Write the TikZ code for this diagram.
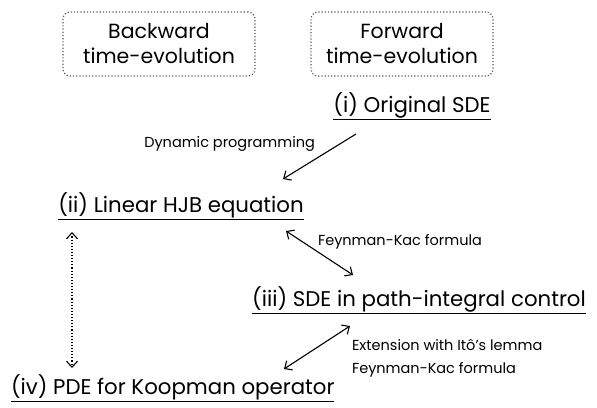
\documentclass[tikz,border=0pt]{standalone}
\usepackage{fontspec}
\setmainfont{Poppins}
\usetikzlibrary{arrows.meta}
\begin{document}
\begin{tikzpicture}[x=1pt,y=-1pt,
  every node/.style={inner sep=0pt,outer sep=0pt},
  tbox/.style={draw=black!65,dotted,line width=1.2pt,rounded corners=7pt,minimum width=192pt,minimum height=64pt,align=center,font=\fontsize{20.5}{25}\selectfont},
  main/.style={font=\fontsize{21.3}{24}\selectfont},
  lbl/.style={font=\fontsize{14.5}{23}\selectfont,align=left},
  arr/.style={line width=1.1pt,-{Straight Barb[length=6pt,width=11pt]}},
  darr/.style={line width=1.1pt,{Straight Barb[length=6pt,width=11pt]}-{Straight Barb[length=6pt,width=11pt]}}
]
\useasboundingbox (0,0) rectangle (597,407);
\node[tbox] (bw) at (159,44) {Backward\\time-evolution};
\node[tbox,minimum width=182pt] (fw) at (402,44) {Forward\\time-evolution};
\node[main,anchor=base] (i) at (412,112) {\underline{(i) Original SDE}};
\node[main,anchor=base] (ii) at (181,212) {\underline{(ii) Linear HJB equation}};
\node[main,anchor=base] (iii) at (419,306) {\underline{(iii) SDE in path-integral control}};
\node[main,anchor=base west] (iv) at (11,394) {\underline{(iv) PDE for Koopman operator}};
\node[lbl,anchor=base east] (l1) at (315,147) {Dynamic programming};
\node[lbl,anchor=base west] (l2) at (318,245) {Feynman-Kac formula};
\node[lbl,anchor=base west] (l3) at (352,373) {Extension with Itô’s lemma\\Feynman-Kac formula};
\coordinate (a1s) at (356,134);
\coordinate (a1e) at (283,179);
\draw[arr] (a1s) -- (a1e);
\coordinate (a2s) at (286,231);
\coordinate (a2e) at (353,275);
\draw[darr] (a2s) -- (a2e);
\coordinate (a3s) at (350,326);
\coordinate (a3e) at (284,369);
\draw[darr] (a3s) -- (a3e);
\coordinate (a4s) at (72,232);
\coordinate (a4e) at (72,368);
\draw[darr,dotted,line width=1.1pt] (a4s) -- (a4e);
\end{tikzpicture}
\end{document}
